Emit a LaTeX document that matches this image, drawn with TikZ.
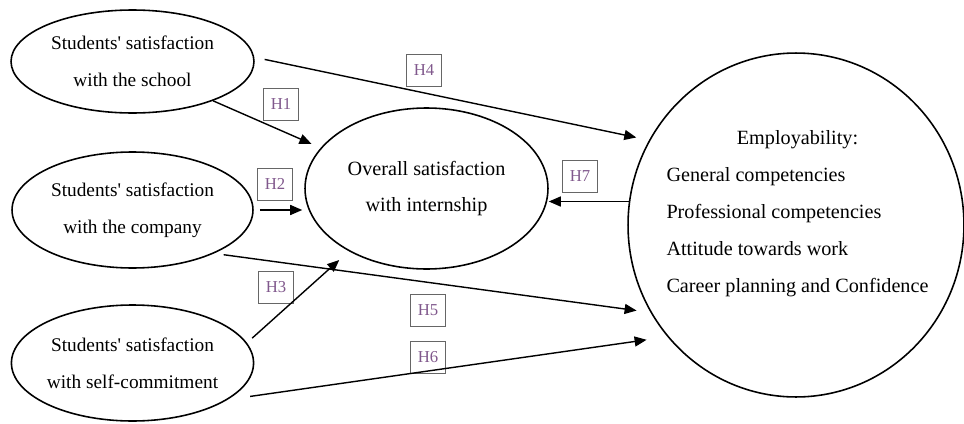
\documentclass[tikz,border=0pt]{standalone}
\usepackage{fontspec}
\setmainfont{Liberation Serif}
\usepackage{xcolor}
\usetikzlibrary{shapes.geometric,arrows.meta}
\definecolor{hpurple}{RGB}{128,88,140}

\begin{document}
\begin{tikzpicture}[x=0.02cm, y=-0.02cm,
    oval/.style={draw, ellipse, line width=0.9pt, inner sep=0pt, align=center, font=\fontsize{11}{21}\selectfont},
    hbox/.style={draw=gray!80!black, line width=0.5pt, text=hpurple, inner sep=0pt, minimum width=0.7cm, minimum height=0.64cm, font=\fontsize{9.5}{9.5}\selectfont},
    arr/.style={line width=0.8pt, -{Triangle[length=0.24cm, width=0.2cm]}}]
    \useasboundingbox (0,0) rectangle (964,423);

    \node[oval, minimum width=4.86cm, minimum height=2.06cm] (school) at (132.5,61.5) {Students\textquotesingle{} satisfaction\\with the school};
    \node[oval, minimum width=4.82cm, minimum height=2.32cm] (company) at (132.5,210) {Students\textquotesingle{} satisfaction\\with the company};
    \node[oval, minimum width=4.82cm, minimum height=2.32cm] (self) at (132.5,363) {Students\textquotesingle{} satisfaction\\with self-commitment};
    \node[oval, minimum width=4.86cm, minimum height=3.22cm, font=\fontsize{11.5}{21}\selectfont] (overall) at (426.5,188.5) {Overall satisfaction\\with internship};
    \node[oval, minimum width=6.72cm, minimum height=6.88cm] (employ) at (796,225) {};
    \node[inner sep=0pt, font=\fontsize{11.5}{21}\selectfont] (employtxt) at (797.5,211) {\begin{tabular}{@{}l@{}}
        \multicolumn{1}{@{}c@{}}{Employability:}\\
        General competencies\\
        Professional competencies\\
        Attitude towards work\\
        Career planning and Confidence
    \end{tabular}};

    \node[hbox] (h1) at (281,104) {H1};
    \node[hbox] (h2) at (275,184) {H2};
    \node[hbox] (h3) at (276,287) {H3};
    \node[hbox] (h4) at (424,70) {H4};
    \node[hbox] (h5) at (428,310) {H5};
    \node[hbox] (h6) at (428,357) {H6};
    \node[hbox] (h7) at (580,176) {H7};

    \draw[arr, shorten >=0.2cm] (school.-26) -- (overall.159);
    \draw[arr, shorten <=0.21cm, shorten >=0.26cm] (school.2) -- (employ.150);
    \draw[arr, shorten <=0.12cm, shorten >=0.04cm] (company.east) -- (company.east -| overall.west);
    \draw[arr, shorten <=0.19cm, shorten >=0.28cm] (company.-28) -- (employ.211);
    \draw[arr, shorten <=0.14cm, shorten >=0.26cm] (self.10) -- (overall.219);
    \draw[arr, shorten <=0.45cm, shorten >=0.42cm] (self.-21) -- (employ.221);
    \draw[arr] (employ.172) -- (employ.172 -| overall.east);
\end{tikzpicture}
\end{document}
